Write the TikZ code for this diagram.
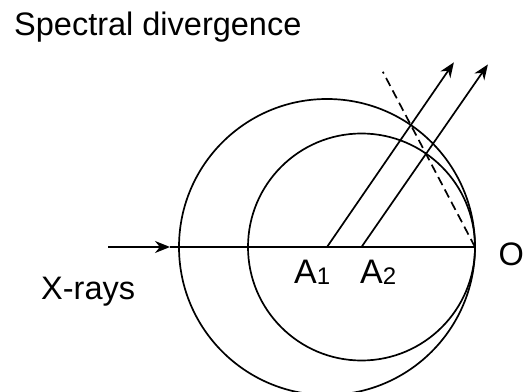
\documentclass[tikz,border=0pt]{standalone}
\usepackage{fontspec}
\setmainfont{Liberation Sans}
\usetikzlibrary{arrows.meta}
\newcommand{\idx}[1]{\raisebox{-1pt}{\fontsize{24}{24}\selectfont #1}}

\begin{document}
\begin{tikzpicture}[
    x=1pt,y=1pt,
    ray/.style={line width=1.7pt},
    arrow/.style={ray,-{Stealth[length=15pt,width=12pt]}},
    guide/.style={line width=1.7pt,dash pattern=on 9pt off 5pt},
    lbl/.style={inner sep=0pt,anchor=base west,font=\fontsize{32.5}{38}\selectfont},
    pt/.style={lbl,font=\fontsize{34}{40}\selectfont}
]
\clip (0,0) rectangle (524,391);
\coordinate (A1) at (327,144);
\coordinate (A2) at (361.5,144);
\coordinate (O) at (475,144);
\coordinate (SRC) at (108,144);
\coordinate (TIP) at (170,144);

\draw[ray] (A1) circle[radius=148];
\draw[ray] (A2) circle[radius=113.5];
\draw[arrow] (SRC) -- (TIP);
\draw[ray] (TIP) -- (O);
\draw[arrow] (A1) -- ++(55.5:224) coordinate (R1);
\draw[arrow] (A2) -- ++(55.3:222) coordinate (R2);
\draw[guide] (O) -- ++(117.75:198) coordinate (D);

\node[lbl] (SD) at (14,355) {Spectral divergence};
\node[lbl] (XR) at (41,92) {X-rays};
\node[pt] (L1) at (294,108) {A\idx{1}};
\node[pt] (L2) at (360,108) {A\idx{2}};
\node[lbl] (LO) at (498.5,126) {O};

\end{tikzpicture}
\end{document}
